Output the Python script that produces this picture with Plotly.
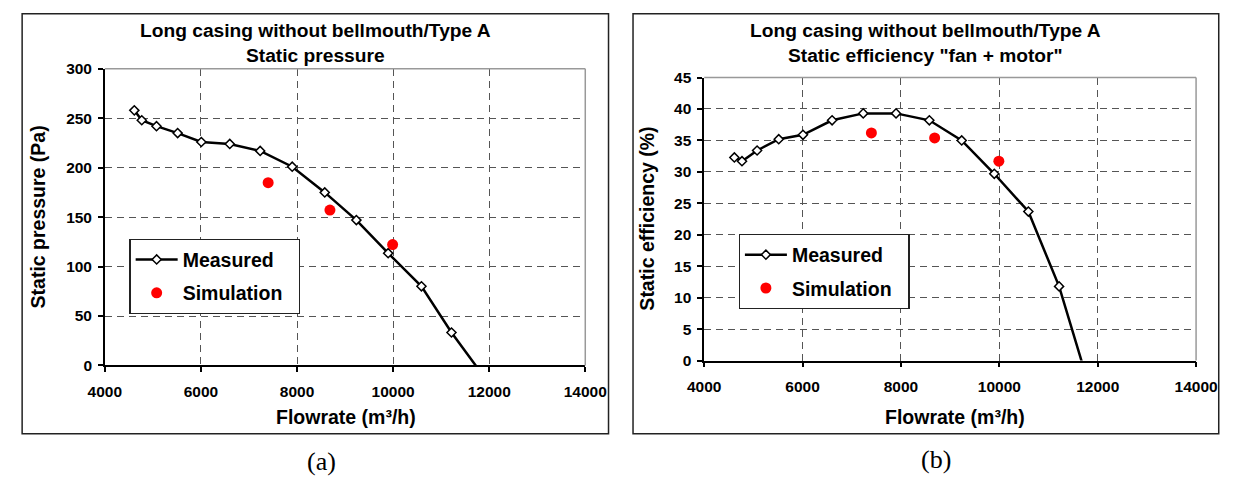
import plotly.graph_objects as go

# ---------------- data ----------------
flow_measured = [4613, 4768, 5075, 5515, 6008, 6600, 7233, 7900, 8577, 9235, 9897, 10590, 11215, 11900]
pressure_measured = [258, 248, 242, 235, 226, 224, 217, 201, 175, 147, 113.5, 80, 33.3, -12]
efficiency_measured = [32.3, 31.7, 33.4, 35.2, 35.9, 38.2, 39.3, 39.3, 38.2, 35.0, 29.7, 23.7, 11.8, -6]

flow_sim = [7399, 8685, 9990]
pressure_sim = [184.9, 157.2, 122.3]
efficiency_sim = [36.2, 35.4, 31.7]

x_ticks = [4000, 6000, 8000, 10000, 12000, 14000]
p_ticks = [0, 50, 100, 150, 200, 250, 300]
e_ticks = [0, 5, 10, 15, 20, 25, 30, 35, 40, 45]

title_line1 = "Long casing without bellmouth/Type A"
title_p = "Static pressure"
title_e = 'Static efficiency "fan + motor"'

# ---------------- layout helpers ----------------
W, H = 1242, 488
def px(x): return x / W
def py(y): return 1 - y / H

FONT = "Liberation Sans, Arial, sans-serif"
GRID = "#555555"

fig = go.Figure()

line_style = dict(color="black", width=2.5)
diamond = dict(symbol="diamond", size=7, color="white", line=dict(color="black", width=1.5))
reddot = dict(symbol="circle", size=11, color="#ff0000")

fig.add_trace(go.Scatter(x=flow_measured, y=pressure_measured, mode="lines+markers",
                         name="<b>Measured</b>", line=line_style, marker=diamond,
                         xaxis="x", yaxis="y", legend="legend", legendgroup="a1"))
fig.add_trace(go.Scatter(x=flow_sim, y=pressure_sim, mode="markers",
                         name="<b>Simulation</b>\u00a0\u00a0", marker=reddot,
                         xaxis="x", yaxis="y", legend="legend", legendgroup="a2"))
fig.add_trace(go.Scatter(x=flow_measured, y=efficiency_measured, mode="lines+markers",
                         name="<b>Measured</b>", line=line_style, marker=diamond,
                         xaxis="x2", yaxis="y2", legend="legend2", legendgroup="b1"))
fig.add_trace(go.Scatter(x=flow_sim, y=efficiency_sim, mode="markers",
                         name="<b>Simulation</b>\u00a0\u00a0", marker=reddot,
                         xaxis="x2", yaxis="y2", legend="legend2", legendgroup="b2"))

tickfont = dict(family=FONT, size=15.5, color="black")
common = dict(showline=True, linecolor="black", linewidth=1.5,
              ticks="outside", ticklen=5, tickwidth=1.5, tickcolor="black",
              showgrid=True, gridcolor=GRID, gridwidth=1, griddash="7px,5px",
              zeroline=False, fixedrange=True, tickfont=tickfont)

def xaxis(domain, anchor):
    return dict(domain=domain, anchor=anchor, range=[4000, 14000], tickvals=x_ticks,
                ticktext=[f"<b>{v}</b>" for v in x_ticks], ticklabelstandoff=6, **common)

def yaxis(domain, anchor, rng, ticks):
    return dict(domain=domain, anchor=anchor, range=rng, tickvals=ticks,
                ticktext=[f"<b>{v}</b>" for v in ticks], ticklabelstandoff=3, **common)

# plot areas (pixels)
L1, R1, T1, B1 = 90.7, 586.7, 62, 369.3
L2, R2, T2, B2 = 709.5, 1217.3, 71, 364.3

legfont = dict(family=FONT, size=19.5, color="black")
legcommon = dict(xanchor="left", yanchor="top", bgcolor="white", bordercolor="#222",
                 borderwidth=1.3, font=legfont, tracegroupgap=5, itemwidth=42)

fig.update_layout(
    width=W, height=H, margin=dict(l=0, r=0, t=0, b=0),
    paper_bgcolor="white", plot_bgcolor="white",
    xaxis=xaxis([px(L1), px(R1)], "y"),
    yaxis=yaxis([py(B1), py(T1)], "x", [0, 300], p_ticks),
    xaxis2=xaxis([px(L2), px(R2)], "y2"),
    yaxis2=yaxis([py(B2), py(T2)], "x2", [0, 45], e_ticks),
    legend=dict(x=px(116), y=py(238.3), **legcommon),
    legend2=dict(x=px(745), y=py(233.3), **legcommon),
    showlegend=True,
)

shapes = []
# outer panel boxes
for (x0, y0, x1, y1) in [(5.3, 5, 610.7, 440), (636, 5, 1240.7, 440)]:
    shapes.append(dict(type="rect", xref="paper", yref="paper",
                       x0=px(x0), x1=px(x1), y0=py(y1), y1=py(y0),
                       line=dict(color="#222", width=1.5), fillcolor="rgba(0,0,0,0)", layer="above"))
# gray top/right frame of plot areas
for (L, R, T, B) in [(L1, R1, T1, B1), (L2, R2, T2, B2)]:
    shapes.append(dict(type="line", xref="paper", yref="paper", x0=px(L), x1=px(R), y0=py(T), y1=py(T),
                       line=dict(color="#999999", width=1.5), layer="above"))
    shapes.append(dict(type="line", xref="paper", yref="paper", x0=px(R), x1=px(R), y0=py(T), y1=py(B),
                       line=dict(color="#999999", width=1.5), layer="above"))
fig.update_layout(shapes=shapes)

ann = []
titlefont = dict(family=FONT, size=19.2, color="black")
axfont = dict(family=FONT, size=19.5, color="black")
for cx, t2 in [(308, title_p), (938.4, title_e)]:
    ann.append(dict(text=f"<b>{title_line1}</b>", x=px(cx), y=py(22.7), xref="paper", yref="paper",
                    showarrow=False, font=titlefont, xanchor="center", yanchor="middle"))
    ann.append(dict(text=f"<b>{t2}</b>", x=px(cx), y=py(47.7), xref="paper", yref="paper",
                    showarrow=False, font=titlefont, xanchor="center", yanchor="middle"))
# axis titles
ann.append(dict(text="<b>Flowrate (m³/h)</b>", x=px(340), y=py(423), xref="paper", yref="paper",
                showarrow=False, font=axfont, xanchor="center", yanchor="middle"))
ann.append(dict(text="<b>Flowrate (m³/h)</b>", x=px(968), y=py(423), xref="paper", yref="paper",
                showarrow=False, font=axfont, xanchor="center", yanchor="middle"))
ann.append(dict(text="<b>Static pressure (Pa)</b>", x=px(22), y=py((T1 + B1) / 2), xref="paper", yref="paper",
                showarrow=False, font=axfont, textangle=-90, xanchor="center", yanchor="middle"))
ann.append(dict(text="<b>Static efficiency (%)</b>", x=px(651), y=py((T2 + B2) / 2), xref="paper", yref="paper",
                showarrow=False, font=axfont, textangle=-90, xanchor="center", yanchor="middle"))
# panel labels
serif = dict(family="Liberation Serif, Times New Roman, serif", size=26, color="black")
ann.append(dict(text="(a)", x=px(314), y=py(469), xref="paper", yref="paper",
                showarrow=False, font=serif, xanchor="center", yanchor="middle"))
ann.append(dict(text="(b)", x=px(949), y=py(467), xref="paper", yref="paper",
                showarrow=False, font=serif, xanchor="center", yanchor="middle"))
fig.update_layout(annotations=ann)

fig.write_html("out.html", config={"displayModeBar": False},
               post_script="document.body.style.margin='0px';")
